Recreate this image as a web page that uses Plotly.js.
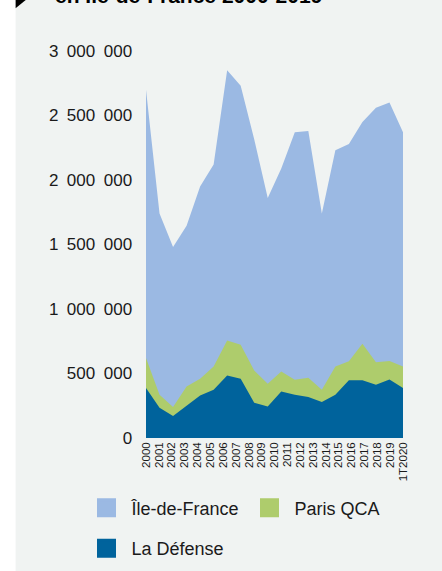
<!DOCTYPE html>
<html>
<head>
<meta charset="utf-8">
<script src="https://cdn.plot.ly/plotly-3.0.1.min.js"></script>
<style>
html,body{margin:0;padding:0;background:#ffffff;}
#chart{width:442px;height:571px;}
</style>
</head>
<body>
<div id="chart"></div>
<script>
// ---- data ----
var tickLabels = ["2000","2001","2002","2003","2004","2005","2006","2007","2008","2009","2010",
                  "2011","2012","2013","2014","2015","2016","2017","2018","2019","1T2020"];
var ileDeFrance = [2700000,1740000,1480000,1645000,1950000,2120000,2850000,2730000,2315000,1860000,
                   2090000,2370000,2380000,1740000,2230000,2280000,2450000,2560000,2600000,2370000];
var parisQCA    = [620000,336000,240000,400000,460000,555000,756000,723000,524000,421000,
                   516000,452000,467000,375000,555000,594000,731000,588000,596000,555000];
var laDefense   = [387000,235000,170000,253000,330000,375000,485000,460000,274000,245000,
                   361000,336000,317000,279000,336000,447000,447000,413000,454000,387000];
var yTicks = [0,500000,1000000,1500000,2000000,2500000,3000000];
var seriesNames = ["Île-de-France","Paris QCA","La Défense"];
var titleText = "en Île-de-France 2000-2019";

// ---- styles ----
var colIdf = "#9bb9e3", colQca = "#aecc6c", colDef = "#00639c";
var panel = "#f0f3f2";
var FONT = "Liberation Sans, Arial, sans-serif";

var W = 442, H = 571;
var M = {l:145.7, r:38.7, t:50.7, b:133.3, autoexpand: false};
var pw = W - M.l - M.r, ph = H - M.t - M.b;
function px2x(px){ return (px - M.l)/pw; }
function py2y(py){ return (H - M.b - py)/ph; }

var idx = ileDeFrance.map(function(_, i){ return i; });
var n = ileDeFrance.length - 1;
var tickPos = tickLabels.map(function(_, i){ return i * n / (tickLabels.length - 1); });

function fmt(v){
  return String(v).replace(/\B(?=(\d{3})+(?!\d))/g, "\u2002");
}

function area(y, name, col){
  return {x: idx, y: y, type: "scatter", mode: "lines", fill: "tozeroy",
          fillcolor: col, line: {width: 0, color: col}, name: name,
          showlegend: false, hoverinfo: "x+y"};
}
function legendItem(name, col, lg){
  return {x: [null], y: [null], type: "scatter", mode: "markers", name: name,
          marker: {symbol: "square", size: 16, color: col, line: {width: 3, color: col}},
          legend: lg, showlegend: true};
}

var traces = [
  area(ileDeFrance, seriesNames[0], colIdf),
  area(parisQCA, seriesNames[1], colQca),
  area(laDefense, seriesNames[2], colDef),
  legendItem(seriesNames[0], colIdf, "legend"),
  legendItem(seriesNames[1], colQca, "legend2"),
  legendItem(seriesNames[2], colDef, "legend3")
];

var legendFont = {family: FONT, size: 18, color: "#1a1a1a"};
function legendAt(pxStart, pyMid){
  return {orientation: "v", xref: "container", yref: "container",
          x: pxStart / W, y: 1 - pyMid / H, xanchor: "left", yanchor: "middle",
          itemwidth: 40, bgcolor: "rgba(0,0,0,0)", font: legendFont,
          itemclick: false, itemdoubleclick: false};
}

var layout = {
  width: W, height: H,
  margin: M,
  paper_bgcolor: "#ffffff",
  plot_bgcolor: "rgba(0,0,0,0)",
  font: {family: FONT, color: "#1a1a1a"},
  showlegend: true,
  xaxis: {
    type: "linear", range: [0, n], showgrid: false, zeroline: false, showline: false,
    tickmode: "array", tickvals: tickPos, ticktext: tickLabels, tickangle: -90,
    ticks: "", tickfont: {family: FONT, size: 11.5, color: "#1a1a1a"}, ticklabelstandoff: 1
  },
  yaxis: {
    range: [0, 3000000], showgrid: false, zeroline: false, showline: false,
    tickmode: "array", tickvals: yTicks, ticktext: yTicks.map(fmt),
    ticks: "outside", ticklen: 9.5, tickcolor: "rgba(0,0,0,0)",
    tickfont: {family: FONT, size: 17, color: "#1a1a1a"}
  },
  legend: legendAt(81.5, 508),
  legend2: legendAt(244.5, 508),
  legend3: legendAt(81.5, 548.5),
  shapes: [
    {type: "rect", xref: "paper", yref: "paper", layer: "below",
     x0: px2x(15), x1: px2x(W + 2), y0: py2y(H + 2), y1: py2y(-2),
     fillcolor: panel, line: {width: 0}},
    {type: "path", xref: "paper", yref: "paper", layer: "above",
     path: "M" + px2x(15) + "," + py2y(-1) + " L" + px2x(26) + "," + py2y(-1) +
           " L" + px2x(15) + "," + py2y(8) + " Z",
     fillcolor: "#000000", line: {width: 0}}
  ],
  annotations: [
    {text: "<b>" + titleText + "</b>", xref: "paper", yref: "paper",
     x: px2x(52), y: py2y(9), xanchor: "left", yanchor: "bottom",
     showarrow: false, font: {family: FONT, size: 21, color: "#000000"}}
  ]
};

Plotly.newPlot("chart", traces, layout, {displayModeBar: false, staticPlot: true});
</script>
</body>
</html>
